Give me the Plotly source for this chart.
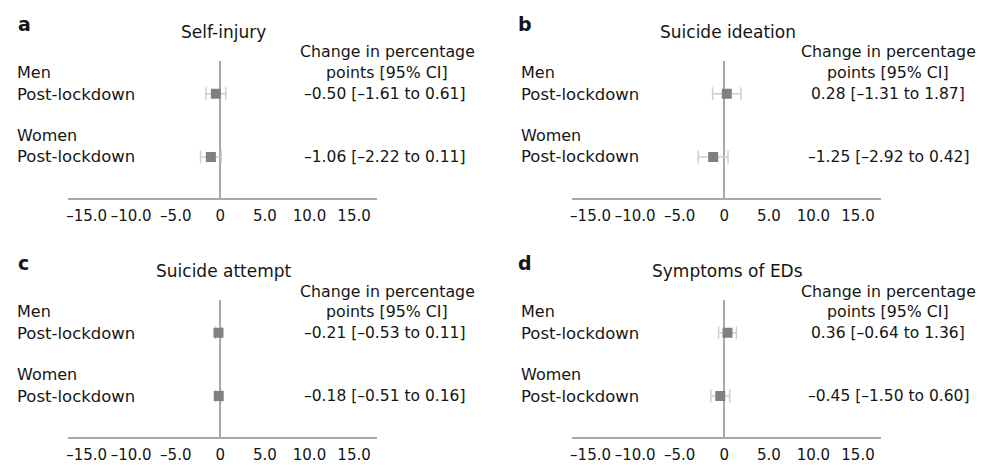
import plotly.graph_objects as go

# ---------------- data ----------------
letters = ["a", "b", "c", "d"]
outcomes = ["Self-injury", "Suicide ideation", "Suicide attempt", "Symptoms of EDs"]
groups = ["Men", "Women"]
row_label = "Post-lockdown"
men_est = [-0.50, 0.28, -0.21, 0.36]
men_lo = [-1.61, -1.31, -0.53, -0.64]
men_hi = [0.61, 1.87, 0.11, 1.36]
women_est = [-1.06, -1.25, -0.18, -0.45]
women_lo = [-2.22, -2.92, -0.51, -1.50]
women_hi = [0.11, 0.42, 0.16, 0.60]
tick_vals = [-15, -10, -5, 0, 5, 10, 15]
tick_text = ["–15.0", "–10.0", "–5.0", "0", "5.0", "10.0", "15.0"]
header_line1 = "Change in percentage"
header_line2 = "points [95% CI]"

# ---------------- layout helpers ----------------
PAGE_W, PAGE_H = 984, 465
BODY = 8  # default page margin around the plot div
W, H = PAGE_W - BODY, PAGE_H - BODY
FONT = "DejaVu Sans"
MARK = "#808080"
ERR = "#cfcfcf"
LINE = "#a8a8a8"
TXT = "#151515"


def px(x):
    return (x - BODY) / W


def py(y):
    return 1 - (y - BODY) / H


def fmt(v):
    return f"{v:.2f}".replace("-", "–")


fig = go.Figure()

# panel pixel offsets (dx, dy)
offsets = [(0, 0), (505, 0), (0, 239), (505, 239)]
letter_dx = [0, 501, 0, 501]
header_dx = [0, -3, 0, -3]

annotations = []
for i in range(4):
    dx, dy = offsets[i]
    ax = "" if i == 0 else str(i + 1)
    xa = "x" + ax
    ya = "y" + ax
    est = [men_est[i], women_est[i]]
    lo = [men_lo[i], women_lo[i]]
    hi = [men_hi[i], women_hi[i]]
    fig.add_trace(go.Scatter(
        x=est, y=[1, 2], mode="markers",
        marker=dict(symbol="square", size=10, color=MARK),
        error_x=dict(type="data", symmetric=False,
                     array=[h - e for h, e in zip(hi, est)],
                     arrayminus=[e - l for e, l in zip(est, lo)],
                     color=ERR, thickness=1.5, width=6.5),
        xaxis=xa, yaxis=ya, showlegend=False, hoverinfo="skip",
    ))
    fig.update_layout(**{
        "xaxis" + ax: dict(
            domain=[px(66 + dx), px(376 + dx)], range=[-17.1, 17.6],
            anchor=ya, tickmode="array", tickvals=tick_vals, ticktext=tick_text,
            showgrid=False, zeroline=True, zerolinecolor=LINE, zerolinewidth=2,
            showline=True, linecolor=LINE, linewidth=1.5,
            ticks="outside", ticklen=3, tickcolor="rgba(0,0,0,0)",
            tickfont=dict(family=FONT, size=15, color=TXT), fixedrange=True,
        ),
        "yaxis" + ax: dict(
            domain=[py(198 + dy), py(61 + dy)], range=[2.65, 0.48],
            anchor=xa, visible=False, showgrid=False, zeroline=False, fixedrange=True,
        ),
    })

    def add(text, x, y, xanchor="left", size=16, bold=False):
        annotations.append(dict(
            text=f"<b>{text}</b>" if bold else text,
            x=px(x), y=py(y), xref="paper", yref="paper",
            xanchor=xanchor, yanchor="middle", showarrow=False,
            font=dict(family=FONT, size=size, color=TXT),
        ))

    add(letters[i], 14 + letter_dx[i], 24 + dy, size=19, bold=True)
    add(outcomes[i], 222 + dx, 32 + dy, xanchor="center", size=17)
    add(header_line1, 386 + dx + header_dx[i], 52 + dy, xanchor="center", size=15.8)
    add(header_line2, 386 + dx + header_dx[i], 72 + dy, xanchor="center", size=15.8)
    add(groups[0], 13 + dx, 72 + dy)
    add(row_label, 13 + dx, 94 + dy, size=16.5)
    add(groups[1], 13 + dx, 135 + dy)
    add(row_label, 13 + dx, 157 + dy, size=16.5)
    add(f"{fmt(men_est[i])} [{fmt(men_lo[i])} to {fmt(men_hi[i])}]", 383 + dx, 94 + dy,
        xanchor="center", size=15.5)
    add(f"{fmt(women_est[i])} [{fmt(women_lo[i])} to {fmt(women_hi[i])}]", 383 + dx, 157 + dy,
        xanchor="center", size=15.5)

fig.update_layout(
    width=W, height=H, margin=dict(l=0, r=0, t=0, b=0),
    paper_bgcolor="white", plot_bgcolor="white",
    annotations=annotations, font=dict(family=FONT),
)

fig.write_html("out.html")
